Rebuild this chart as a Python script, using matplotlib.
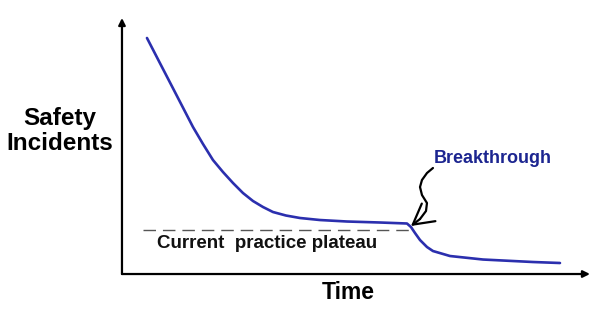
import numpy as np
import matplotlib.pyplot as plt

plt.rcParams['font.family'] = ['Liberation Sans', 'DejaVu Sans']

# incident curve (time, incidents), arbitrary units 0-100
time = [5.34, 8.12, 10.90, 13.03, 15.17, 17.31, 19.44, 21.58, 23.72, 25.85,
        27.99, 30.13, 32.26, 35.04, 38.03, 42.31, 48.08, 55.13, 60.90,
        61.75, 62.61, 63.68, 65.17, 66.45, 70.09, 77.14, 87.82, 93.59]
incidents = [92.19, 82.35, 72.54, 65.00, 57.42, 50.78, 44.53, 39.84, 35.55, 31.64,
             28.52, 26.17, 24.22, 22.85, 21.88, 21.09, 20.51, 20.12, 19.73,
             18.36, 16.02, 13.28, 10.55, 8.98, 7.03, 5.66, 4.69, 4.30]

# plateau level
plateau_level = 17.2
plateau_start, plateau_end = 4.5, 62.2

# squiggle arrow pointing at the breakthrough
squiggle_t = [66.45, 65.17, 64.10, 63.68, 64.10, 65.17, 64.96, 63.68, 61.75]
squiggle_v = [41.41, 39.45, 36.72, 33.98, 30.86, 27.73, 24.61, 21.48, 18.75]

fig = plt.figure(figsize=(6, 3.17), dpi=100)
ax = fig.add_axes([0.2033, 0.1356, 0.78, 0.8076])
ax.set_xlim(0, 100)
ax.set_ylim(0, 100)
ax.axis('off')

ax.plot(time, incidents, color='#2b2fae', lw=1.9, solid_capstyle='round',
        solid_joinstyle='round')
ax.plot([plateau_start, plateau_end], [plateau_level, plateau_level],
        color='#555555', lw=1.0, dashes=(9, 5))

ax.plot(squiggle_t[:-1], squiggle_v[:-1], color='black', lw=1.6,
        solid_joinstyle='round', solid_capstyle='round')
ax.annotate('', xy=(squiggle_t[-1], squiggle_v[-1]),
            xytext=(squiggle_t[-2], squiggle_v[-2]),
            arrowprops=dict(arrowstyle='->,head_length=0.9,head_width=0.5',
                            color='black', lw=1.6,
                            mutation_scale=16, shrinkA=0, shrinkB=0))

# axes arrows
ax.annotate('', xy=(1, 0), xytext=(0, 0), xycoords='axes fraction',
            arrowprops=dict(arrowstyle='-|>', color='black', lw=1.6,
                            mutation_scale=10, shrinkA=0, shrinkB=0))
ax.annotate('', xy=(0, 1), xytext=(0, 0), xycoords='axes fraction',
            arrowprops=dict(arrowstyle='-|>', color='black', lw=1.6,
                            mutation_scale=10, shrinkA=0, shrinkB=0))

ax.text(31.0, 12.1, 'Current  practice plateau', ha='center', va='center',
        fontsize=13.5, fontweight='bold', color='#111111')
ax.text(79.3, 45.3, 'Breakthrough', ha='center', va='center',
        fontsize=13, fontweight='bold', color='#1c2590')

fig.text(0.100, 0.587, 'Safety\nIncidents', ha='center', va='center',
         fontsize=17.5, fontweight='bold', linespacing=1.12)
fig.text(0.58, 0.076, 'Time', ha='center', va='center',
         fontsize=16.5, fontweight='bold')

fig.savefig('out.png', dpi=100)
